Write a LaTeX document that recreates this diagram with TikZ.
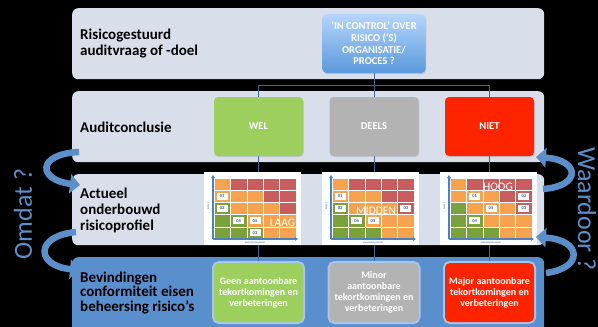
\documentclass[tikz,border=0pt]{standalone}
\usepackage{fontspec}
\setmainfont{Carlito}
\usetikzlibrary{arrows.meta,shadows}
\definecolor{bandc}{HTML}{D9DEEB}
\definecolor{bluebandc}{HTML}{5A8FCD}
\definecolor{linec}{HTML}{41679A}
\definecolor{greenc}{HTML}{9CCF5E}
\definecolor{greyc}{HTML}{B3B3B3}
\definecolor{redc}{HTML}{FF2400}
\definecolor{arrowc}{HTML}{5B8FC9}
\definecolor{cR}{HTML}{C95C5C}
\definecolor{cO}{HTML}{F7A24F}
\definecolor{cG}{HTML}{7BA13D}
\definecolor{axisc}{HTML}{4F81BD}
\definecolor{lblc}{HTML}{2E5E8E}
\definecolor{glowc}{HTML}{A9C6EA}
\definecolor{topc}{HTML}{B5D5FB}
\definecolor{botc}{HTML}{5A99DC}
\pgfdeclarelayer{bg}\pgfdeclarelayer{lines}\pgfsetlayers{bg,lines,main}
\newcommand{\riskgrid}[2]{%
  \begin{scope}[shift={(#1,#2)}]
    \foreach \r/\row in {1/{O,R,R,R,R},2/{O,O,O,R,R},3/{G,O,O,O,R},4/{G,G,O,O,O},5/{G,G,G,O,O}}{
      \foreach \c [count=\i] in \row {
        \fill[c\c, draw=white, line width=0.6pt] ({10+16.4*(\i-1)},{6+12.2*(\r-1)}) rectangle ++(16.4,12.2);
      }
    }
    \draw[axisc, line width=1.1pt, -{Triangle[length=3pt,width=3.5pt]}] (9,67) -- (9,3);
    \draw[axisc, line width=1.1pt, -{Triangle[length=3pt,width=3.5pt]}] (9,67) -- (94,67);
    \node[tiny, rotate=90] at (4.5,34) {EFFECT};
    \node[tiny] at (51,70.5) {WAARSCHIJNLIJKHEID};
  \end{scope}}
\newcommand{\rlbl}[5]{% x0 y0 col row text
  \node[rl] at ({#1+10+16.4*(#3-0.5)},{#2+6+12.2*(#4-0.5)}) {#5};}
\begin{document}
\begin{tikzpicture}[x=1pt,y=-1pt,
  band/.style={rectangle, rounded corners=6pt, fill=bandc, minimum width=472pt, minimum height=71pt, anchor=north west, inner sep=0pt},
  rowlbl/.style={anchor=west, align=left, font=\fontsize{15}{16}\selectfont\bfseries, text=black, inner sep=0pt},
  cbox/.style={rectangle, rounded corners=4pt, minimum width=89pt, minimum height=59pt, text=white, font=\fontsize{10.5}{11.5}\selectfont\bfseries, align=center, inner sep=1pt, drop shadow={shadow xshift=0.8pt, shadow yshift=-1pt, opacity=0.25}},
  fbox/.style={rectangle, rounded corners=5pt, minimum width=89pt, minimum height=59pt, text=white, font=\fontsize{10}{11}\selectfont\bfseries, align=center, inner sep=1pt, preaction={draw=glowc, line width=4pt}},
  img/.style={rectangle, fill=white, minimum width=97pt, minimum height=73pt, anchor=north west, inner sep=0pt},
  tiny/.style={font=\fontsize{2.2}{2.2}\selectfont\bfseries, text=axisc, inner sep=0pt},
  rl/.style={rectangle, fill=white, minimum width=11pt, minimum height=7pt, inner sep=0pt, font=\fontsize{4.5}{4.5}\selectfont\bfseries, text=lblc},
  big/.style={font=\fontsize{11.5}{11.5}\selectfont, text=white, inner sep=0pt},
  conn/.style={draw=linec, line width=0.8pt},
  carrow/.style={draw=arrowc, line width=6.5pt, -{Triangle[length=10pt,width=19pt]}},
  side/.style={font=\fontsize{26}{26}\selectfont, text=arrowc, inner sep=0pt}]
\useasboundingbox (0,0) rectangle (598,327);
\clip (0,0) rectangle (598,327);
\begin{pgfonlayer}{bg}
  \fill[black] (0,0) rectangle (598,327);
  \node[band] (band1) at (72,8) {};
  \node[band] (band2) at (72,91) {};
  \node[band] (band3) at (72,174) {};
  \node[band, fill=bluebandc, minimum height=80pt] (band4) at (72,257) {};
\end{pgfonlayer}
% row labels
\node[rowlbl] (t1) at (80,44) {Risicogestuurd\\auditvraag of -doel};
\node[rowlbl] (t2) at (80,127.5) {Auditconclusie};
\node[rowlbl] (t3) at (80,210) {Actueel\\onderbouwd\\risicoprofiel};
\node[rowlbl, font=\fontsize{15}{14.5}\selectfont\bfseries] (t4) at (80,293) {Bevindingen\\conformiteit eisen\\beheersing risico’s};
% top question box
\node[cbox, minimum width=103pt, top color=topc, bottom color=botc, font=\fontsize{10.5}{11.6}\selectfont\bfseries] (q) at (374,43.5) {‘IN CONTROL’ OVER\\RISICO (‘S)\\ORGANISATIE/\\PROCES ?};
% conclusion boxes
\node[cbox, fill=greenc] (wel) at (258.5,126.5) {WEL};
\node[cbox, fill=greyc] (deels) at (374,126.5) {DEELS};
\node[cbox, fill=redc] (niet) at (489.5,126.5) {NIET};
% images
\node[img] (img1) at (204,172) {};
\node[img] (img2) at (322,172) {};
\node[img] (img3) at (440,172) {};
\riskgrid{204}{172}
\riskgrid{322}{172}
\riskgrid{440}{172}
\rlbl{204}{172}{1}{2}{01}
\rlbl{204}{172}{1}{3}{02}
\rlbl{204}{172}{2}{4}{04}
\rlbl{204}{172}{3}{4}{05}
\rlbl{204}{172}{3}{5}{03}
\node[big] (laag) at (282.5,223) {LAAG};
\rlbl{322}{172}{1}{2}{01}
\rlbl{322}{172}{1}{3}{02}
\rlbl{322}{172}{5}{3}{03}
\rlbl{322}{172}{2}{4}{04}
\rlbl{322}{172}{3}{4}{05}
\node[big] (midden) at (376,210.5) {MIDDEN};
\rlbl{440}{172}{2}{2}{01}
\rlbl{440}{172}{5}{2}{02}
\rlbl{440}{172}{3}{3}{05}
\rlbl{440}{172}{5}{3}{03}
\rlbl{440}{172}{2}{4}{04}
\node[big] (hoog) at (498,187) {HOOG};
% findings boxes
\node[fbox, fill=greenc] (b1) at (258.5,292.5) {Geen aantoonbare\\tekortkomingen en\\verbeteringen};
\node[fbox, fill=greyc] (b2) at (374,292.5) {Minor\\aantoonbare\\tekortkomingen en\\verbeteringen};
\node[fbox, fill=redc] (b3) at (489.5,292.5) {Major aantoonbare\\tekortkomingen en\\verbeteringen};
% connectors
\begin{pgfonlayer}{lines}
  \coordinate (hl) at (374,85);
  \draw[conn] (q.south) -- (q.south |- hl);
  \draw[conn] (b1.north |- hl) -- (b3.north |- hl);
  \draw[conn] (b1.north |- hl) -- (b1.north);
  \draw[conn] (b2.north |- hl) -- (b2.north);
  \draw[conn] (b3.north |- hl) -- (b3.north);
\end{pgfonlayer}
% curved arrows
\coordinate (la1s) at (79,152);
\coordinate (la1e) at (80,185);
\coordinate (la2s) at (76,232);
\coordinate (la2e) at (80,270);
\coordinate (ra1s) at (543,189);
\coordinate (ra1e) at (536,157);
\coordinate (ra2s) at (546,273);
\coordinate (ra2e) at (536,237);
\draw[carrow] (la1s) .. controls (36,154) and (38,180) .. (la1e);
\draw[carrow] (la2s) .. controls (34,236) and (36,266) .. (la2e);
\draw[carrow] (ra1s) .. controls (582,186) and (580,160) .. (ra1e);
\draw[carrow] (ra2s) .. controls (584,268) and (582,240) .. (ra2e);
% side texts
\node[side, rotate=90] (omdat) at (23,214) {Omdat ?};
\node[side, rotate=-90] (waardoor) at (587,209) {Waardoor ?};
\end{tikzpicture}
\end{document}
